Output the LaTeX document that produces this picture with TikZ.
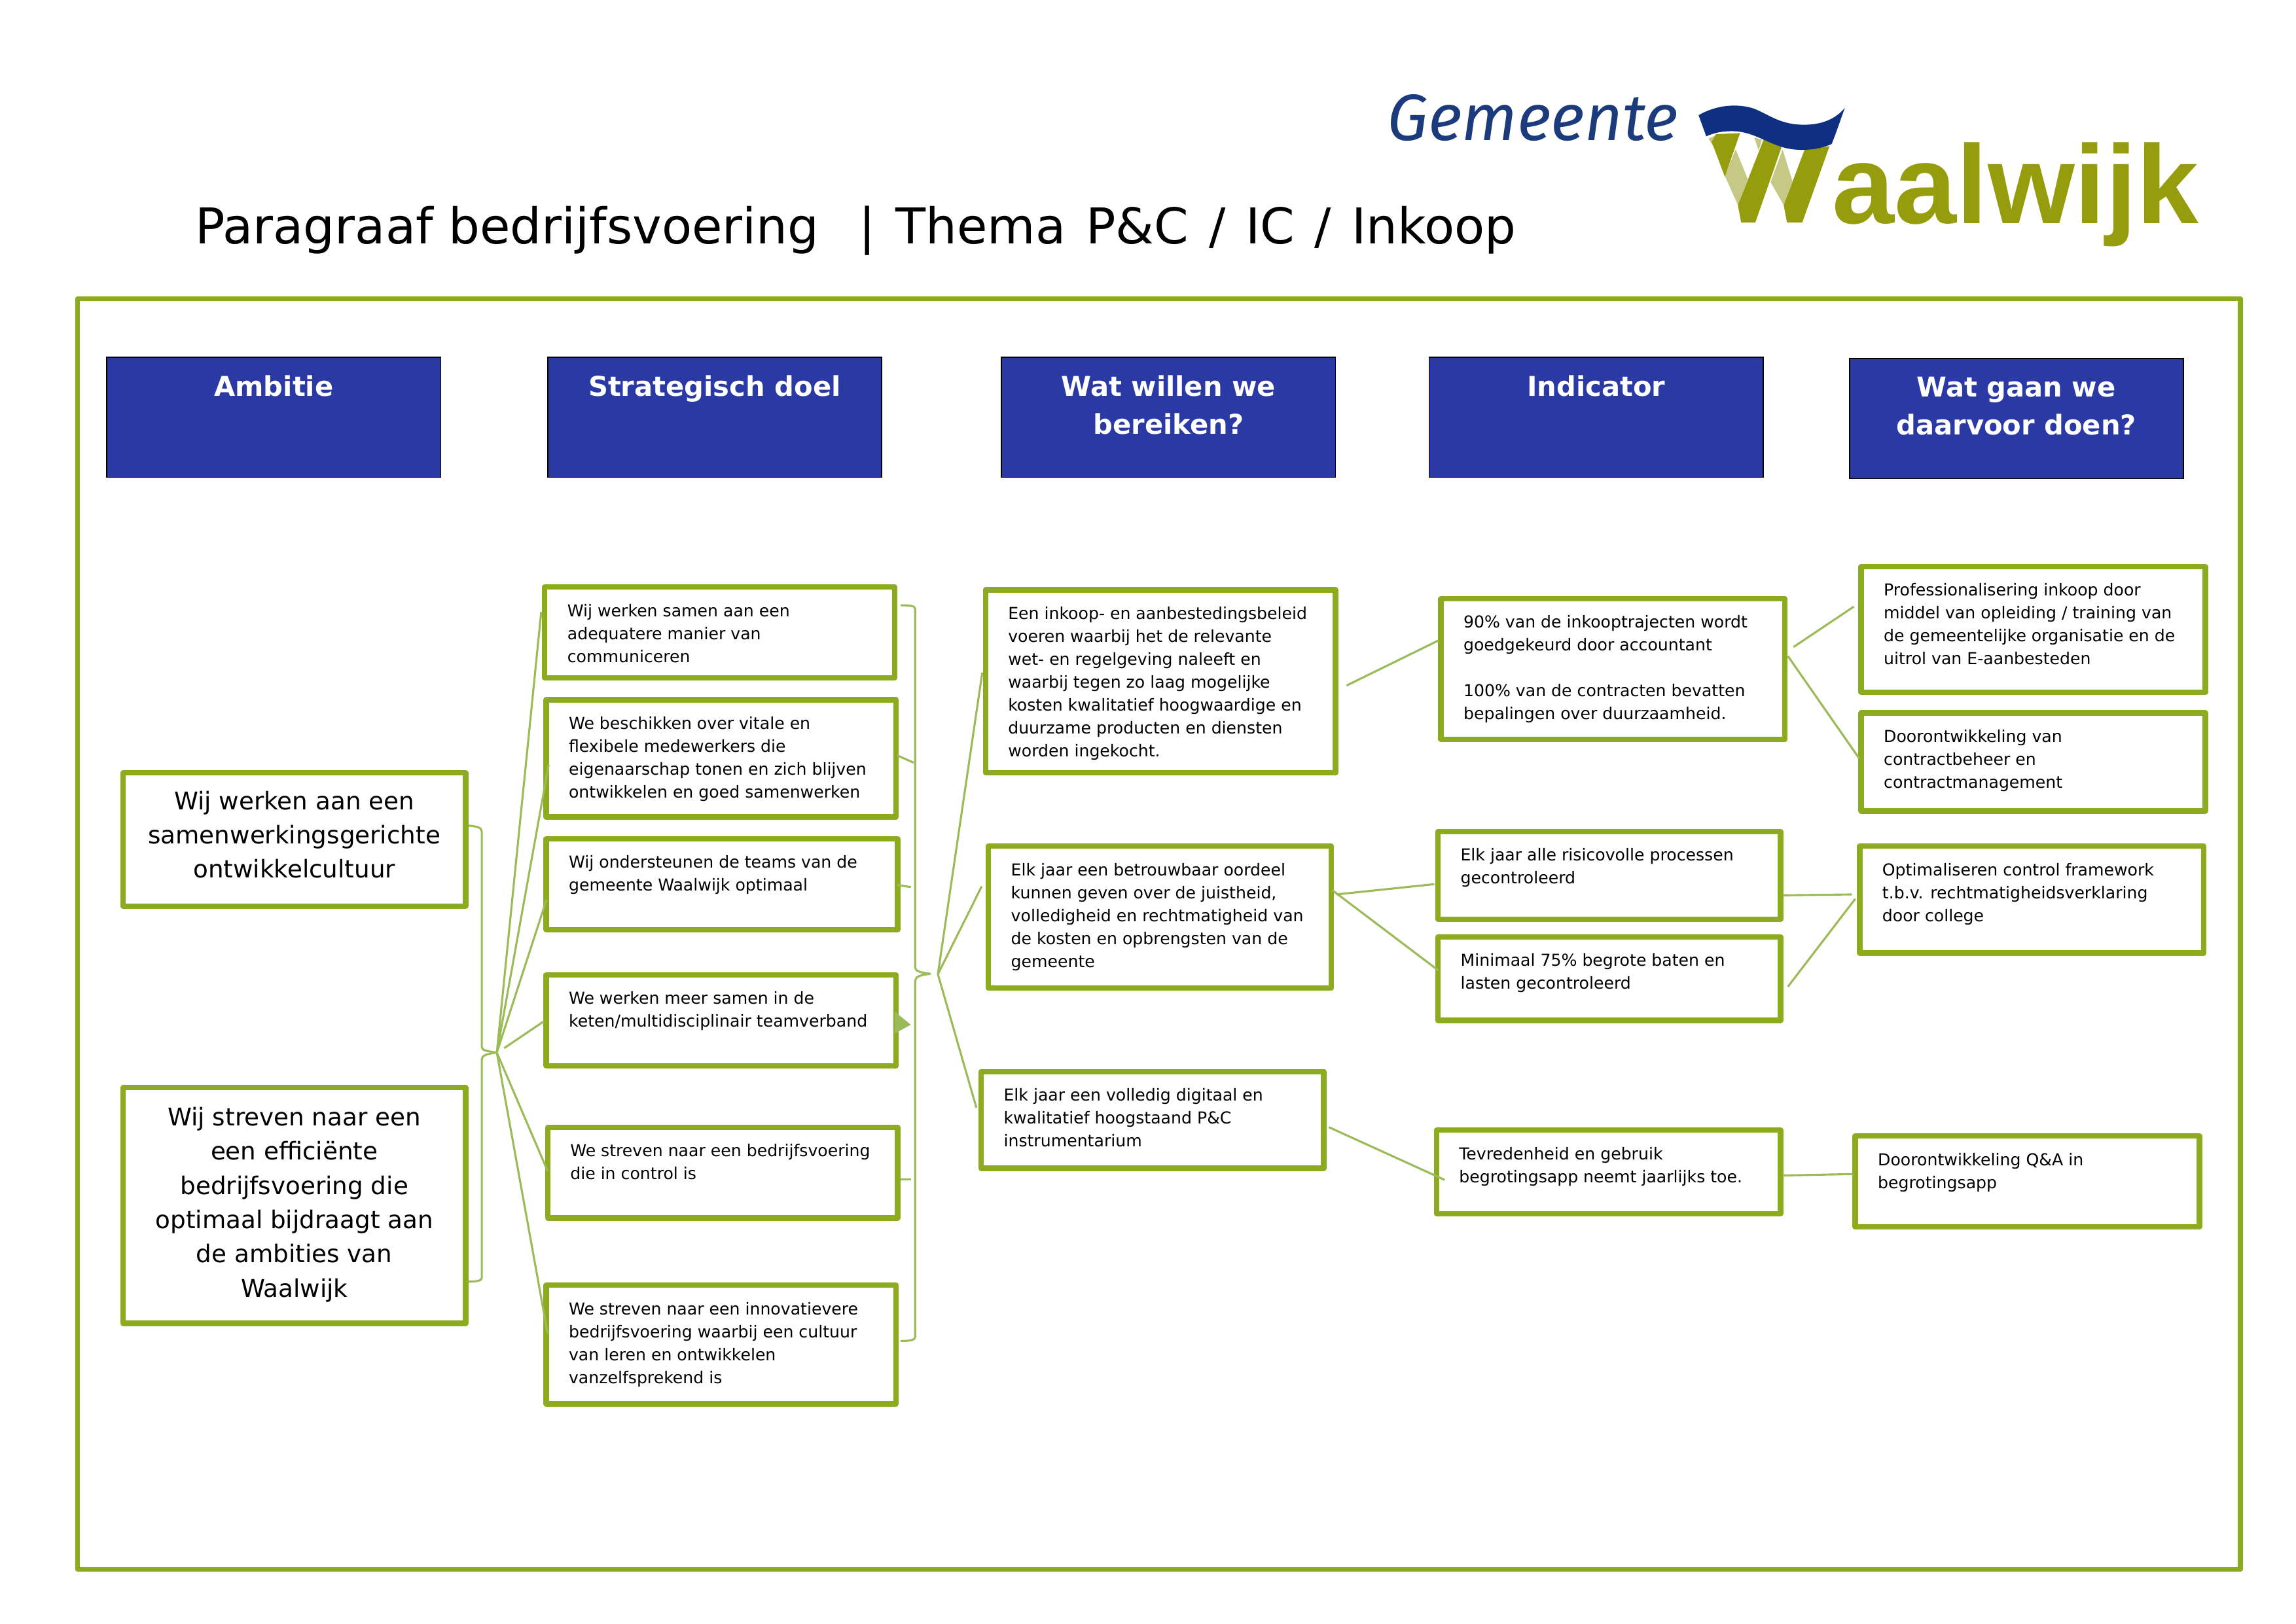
\documentclass[tikz,border=0pt]{standalone}
\usepackage{fontspec}
\setmainfont{DejaVu Sans}
\newfontfamily\logobold{Liberation Sans}[BoldFont={Liberation Sans Bold}]
\newfontfamily\logoital{Fira Sans Italic}
\usetikzlibrary{calc}
\definecolor{gframe}{HTML}{8CAB1E}
\definecolor{gline}{HTML}{9BBB59}
\definecolor{hblue}{HTML}{2A39A3}
\definecolor{logoblue}{HTML}{0F2F80}
\definecolor{logotext}{HTML}{1C3B7C}
\definecolor{logoolive}{HTML}{969D0C}
\definecolor{logolight}{HTML}{C6C986}
\newlength\bw
\newlength\bh
\def\unitpx{0.537}
\newcommand\smallfont{\fontsize{6.04}{8.4}\selectfont}
\newcommand\bigfont{\fontsize{8.95}{12.56}\selectfont}
\newcommand\hdrfont{\fontsize{10}{14}\selectfont\bfseries\color{white}}
\newcommand\tbx[7]{%
  \pgfmathsetlength\bw{(#5-#3)*\unitpx}%
  \pgfmathsetlength\bh{(#6-#4)*\unitpx}%
  \node[#1] (#2) at ({(#3+#5)/2},{(#4+#6)/2})
    {\parbox[c][\bh][t]{\bw}{#7}};}
\newcommand\sbx[6]{\tbx{gbox}{#1}{#2}{#3}{#4}{#5}{\vspace*{6.2pt}\smallfont\leftskip=8.3pt\rightskip=0pt plus 1fil\parindent=0pt #6}}
\newcommand\hbx[6]{\tbx{hbox}{#1}{#2}{#3}{#4}{#5}{\vspace*{6.7pt}\hdrfont\centering #6}}
\newcommand\abx[7]{\tbx{gbox}{#1}{#2}{#3}{#4}{#5}{\vspace*{#6}\bigfont\centering #7}}
\tikzset{
  gbox/.style={draw=gframe,line width=2pt,fill=white,inner sep=0pt,outer sep=0pt,line join=round},
  hbox/.style={draw=black,line width=0.4pt,fill=hblue,inner sep=0pt,outer sep=0pt},
  conn/.style={draw=gline,line width=0.75pt,line join=round},
}
\begin{document}
\begin{tikzpicture}[x=0.537pt,y=-0.537pt]
\useasboundingbox (0,0) rectangle (1568,1109);
% frame
\draw[draw=gframe,line width=1.8pt,line join=round] (53,204) rectangle (1530,1072);
% title
\node[anchor=base west,inner sep=0pt,font=\fontsize{18.1}{22}\selectfont] (title) at (133,166.5)
  {Paragraaf bedrijfsvoering\hspace*{14.6pt}{\spaceskip=7.4pt | Thema P\&C / IC / Inkoop}};
% logo
\node[anchor=base west,inner sep=0pt,text=logotext,font=\logoital\fontsize{24}{28}\selectfont] (gem) at (947,96) {Gemeente};
\begin{scope}[shift={(1153.3,62.6)},scale=0.149]
\fill[logolight] (90,215) -- (130,198) -- (112,250) -- cycle;
\fill[logolight] (215,265) -- (270,400) -- (225,520) -- (165,385) -- cycle;
\fill[logolight] (300,210) -- (335,220) -- (320,270) -- cycle;
\fill[logolight] (430,265) -- (475,410) -- (435,520) -- (375,415) -- cycle;
\fill[logoolive] (125,195) -- (235,190) -- (165,390) -- (105,230) -- cycle;
\fill[logoolive] (225,520) -- (345,215) -- (425,255) -- (305,600) -- (240,600) -- cycle;
\fill[logoolive] (435,520) -- (530,268) -- (645,250) -- (520,600) -- (450,600) -- cycle;
\fill[logoblue] (45,108) .. controls (110,70) and (200,50) .. (290,75)
  .. controls (350,95) and (400,140) .. (490,150)
  .. controls (580,158) and (660,140) .. (715,75)
  .. controls (695,130) and (675,190) .. (655,240)
  .. controls (590,270) and (500,275) .. (430,255)
  .. controls (350,230) and (300,190) .. (220,182)
  .. controls (160,178) and (110,190) .. (80,205) -- cycle;
\end{scope}
\node[anchor=base west,inner sep=0pt,text=logoolive,font=\logobold\bfseries\fontsize{41}{44}\selectfont] (waal) at (1251,152.7) {aalwijk};
% headers
\hbx{h1}{73}{244}{301}{326}{Ambitie}
\hbx{h2}{374}{244}{602}{326}{Strategisch doel}
\hbx{h3}{684}{244}{912}{326}{Wat willen we\\bereiken?}
\hbx{h4}{976}{244}{1204}{326}{Indicator}
\hbx{h5}{1263}{245}{1491}{327}{Wat gaan we\\daarvoor doen?}
% ambitie
\abx{a1}{84}{528}{318}{619}{6.6pt}{Wij werken aan een\\samenwerkingsgerichte\\ontwikkelcultuur}
\abx{a2}{84}{743}{318}{904}{7.2pt}{Wij streven naar een\\een efficiënte\\bedrijfsvoering die\\optimaal bijdraagt aan\\de ambities van\\Waalwijk}
% strategisch doel
\sbx{s1}{372}{401}{611}{463}{Wij werken samen aan een\\adequatere manier van\\communiceren}
\sbx{s2}{373}{478}{612}{558}{We beschikken over vitale en\\flexibele medewerkers die\\eigenaarschap tonen en zich blijven\\ontwikkelen en goed samenwerken}
\sbx{s3}{373}{573}{613}{635}{Wij ondersteunen de teams van de\\gemeente Waalwijk optimaal}
\sbx{s4}{373}{666}{612}{728}{We werken meer samen in de\\keten/multidisciplinair teamverband}
\sbx{s5}{374}{770}{613}{832}{We streven naar een bedrijfsvoering\\die in control is}
\sbx{s6}{373}{878}{612}{959}{We streven naar een innovatievere\\bedrijfsvoering waarbij een cultuur\\van leren en ontwikkelen\\vanzelfsprekend is}
% wat willen we bereiken
\sbx{w1}{673}{403}{912}{528}{Een inkoop- en aanbestedingsbeleid\\voeren waarbij het de relevante\\wet- en regelgeving naleeft en\\waarbij tegen zo laag mogelijke\\kosten kwalitatief hoogwaardige en\\duurzame producten en diensten\\worden ingekocht.}
\sbx{w2}{675}{578}{909}{675}{Elk jaar een betrouwbaar oordeel\\kunnen geven over de juistheid,\\volledigheid en rechtmatigheid van\\de kosten en opbrengsten van de\\gemeente}
\sbx{w3}{670}{732}{904}{798}{Elk jaar een volledig digitaal en\\kwalitatief hoogstaand P\&C\\instrumentarium}
% indicator
\sbx{i1}{984}{409}{1219}{505}{90\% van de inkooptrajecten wordt\\goedgekeurd door accountant\\[8.4pt]100\% van de contracten bevatten\\bepalingen over duurzaamheid.}
\sbx{i2}{982}{568}{1216}{628}{Elk jaar alle risicovolle processen\\gecontroleerd}
\sbx{i3}{982}{640}{1216}{697}{Minimaal 75\% begrote baten en\\lasten gecontroleerd}
\sbx{i4}{981}{772}{1216}{829}{Tevredenheid en gebruik\\begrotingsapp neemt jaarlijks toe.}
% wat gaan we doen
\sbx{d1}{1271}{387}{1506}{473}{Professionalisering inkoop door\\middel van opleiding / training van\\de gemeentelijke organisatie en de\\uitrol van E-aanbesteden}
\sbx{d2}{1271}{487}{1506}{554}{Doorontwikkeling van\\contractbeheer en\\contractmanagement}
\sbx{d3}{1270}{578}{1505}{651}{Optimaliseren control framework\\t.b.v. rechtmatigheidsverklaring\\door college}
\sbx{d4}{1267}{776}{1502}{838}{Doorontwikkeling Q\&A in\\begrotingsapp}
% hubs
\coordinate (hubL) at (339.3,719);
\coordinate (hubR) at (640.5,665.5);
% left brace
\draw[conn] ([shift={(2,-9.5)}]a1.east) .. controls (325,564.5) and (329,565) .. (329,568) -- (329,715)
   .. controls (329,717.5) and (332,718) .. (hubL);
\draw[conn] ([shift={(2,52)}]a2.east) .. controls (325,875.5) and (329,875) .. (329,873) -- (329,724)
   .. controls (329,721) and (332,720) .. (hubL);
% left fan
\draw[conn] (hubL) -- ([shift={(-2.4,-14)}]s1.west);
\draw[conn] (hubL) -- ([shift={(1.7,4.4)}]s2.west);
\draw[conn] (hubL) -- ([shift={(0.2,10.7)}]s3.west);
\draw[conn] ([shift={(5,-3)}]hubL) -- ([shift={(-1.6,0.7)}]s4.west);
\draw[conn] (hubL) -- ([shift={(0,-1)}]s5.west);
\draw[conn] (hubL) -- ([shift={(1,-7.5)}]s6.west);
% right brace
\draw[conn] ([shift={(4,-18.5)}]s1.east) .. controls (620,413.5) and (625,413.5) .. (625,416) -- (625,661)
   .. controls (625,663.5) and (629,664.5) .. (635.5,665.2);
\draw[conn] ([shift={(3,-2.5)}]s6.east) .. controls (620,916) and (625,916) .. (625,913) -- (625,670)
   .. controls (625,667) and (629,666) .. (635.5,665.2);
\draw[conn] ([shift={(0.6,-2)}]s2.east) -- (624,521);
\draw[conn] ([shift={(-0.4,0.5)}]s3.east) -- (622,606);
\draw[conn] ([shift={(2,4.8)}]s5.east) -- (622,805.8);
\fill[gline] ([shift={(-1,-6)}]s4.east) -- ([shift={(10,3)}]s4.east) -- ([shift={(-1,9)}]s4.east) -- cycle;
% fan to w
\draw[conn] (hubR) -- ([shift={(-2.2,-6)}]w1.west);
\draw[conn] (hubR) -- ([shift={(-4.6,-21)}]w2.west);
\draw[conn] (hubR) -- ([shift={(-3.2,-8.3)}]w3.west);
% w to i
\draw[conn] ([shift={(7.6,2.8)}]w1.east) -- ([shift={(-1.6,-19.5)}]i1.west);
\draw[conn] ([shift={(3.6,-15.5)}]w2.east) -- ([shift={(-2.5,6)}]i2.west);
\draw[conn] ([shift={(0.7,-18.5)}]w2.east) -- ([shift={(0.4,-5.5)}]i3.west);
\draw[conn] ([shift={(3.5,5)}]w3.east) -- ([shift={(5.6,5.5)}]i4.west);
% i to d
\draw[conn] ([shift={(5.8,-15)}]i1.east) -- ([shift={(-5,-15.6)}]d1.west);
\draw[conn] ([shift={(2,-8.8)}]i1.east) -- ([shift={(-1.4,-2.5)}]d2.west);
\draw[conn] ([shift={(1.7,13.6)}]i2.east) -- ([shift={(-5.4,-3.5)}]d3.west);
\draw[conn] ([shift={(5,5.5)}]i3.east) -- ([shift={(-3,-0.5)}]d3.west);
\draw[conn] ([shift={(1.6,2.5)}]i4.east) -- ([shift={(-1,-5)}]d4.west);
\end{tikzpicture}
\end{document}
